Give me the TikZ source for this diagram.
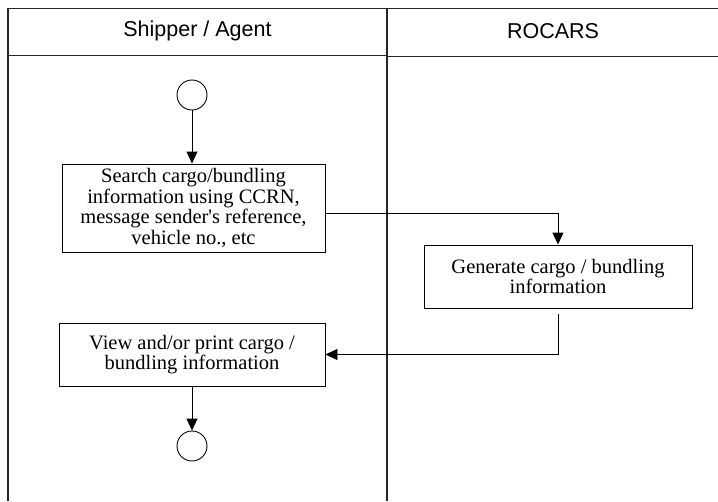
\documentclass[tikz,border=0pt]{standalone}
\usepackage{fontspec}
\setmainfont{Liberation Serif}
\newfontfamily\hdrfont{Liberation Sans}
\usetikzlibrary{arrows.meta,calc}
\tikzset{
  act/.style={draw, line width=0.9pt, align=center, inner sep=0pt, font=\fontsize{20.5}{20.8}\selectfont},
  term/.style={draw, circle, line width=0.9pt, minimum size=30pt, inner sep=0pt},
  flow/.style={line width=0.9pt, -{Triangle[length=12pt,width=11pt]}},
  lane/.style={line width=1.6pt, draw=black!85},
  hdr/.style={font=\hdrfont\fontsize{21.5}{24}\selectfont}
}
\begin{document}
\begin{tikzpicture}[x=1pt,y=-1pt]
\useasboundingbox (0,0) rectangle (718,501);
% swimlanes
\draw[lane] (8,501) -- (8,8.5) -- (718,8.5);
\draw[lane, line width=2pt] (387,8.5) -- (387,501);
\draw[lane] (8,55.5) -- (387,55.5);
\draw[lane] (387,56.5) -- (718,56.5);
\node[hdr] (h1) at (197.5,31) {Shipper / Agent};
\node[hdr] (h2) at (553,31) {ROCARS};
% nodes
\node[term] (start) at (192,95) {};
\node[act, minimum width=263pt, minimum height=88pt] (s1) at (193.5,208)
  {Search cargo/bundling\\information using CCRN,\\message sender\textquotesingle s reference,\\vehicle no., etc};
\node[act, minimum width=268pt, minimum height=63pt] (g) at (558,276.5)
  {Generate cargo / bundling\\information};
\node[act, minimum width=266pt, minimum height=63pt] (v) at (192,354.5)
  {View and/or print cargo /\\bundling information};
\node[term] (end) at (192,446) {};
% connectors
\draw[flow] (start) -- (start |- s1.north);
\draw[flow] ([yshift=-5pt]s1.east) -| (g.north);
\draw[flow] ([yshift=-6pt]g.south) |- (v.east);
\draw[flow] (v.south -| end) -- (end.north);
\end{tikzpicture}
\end{document}
